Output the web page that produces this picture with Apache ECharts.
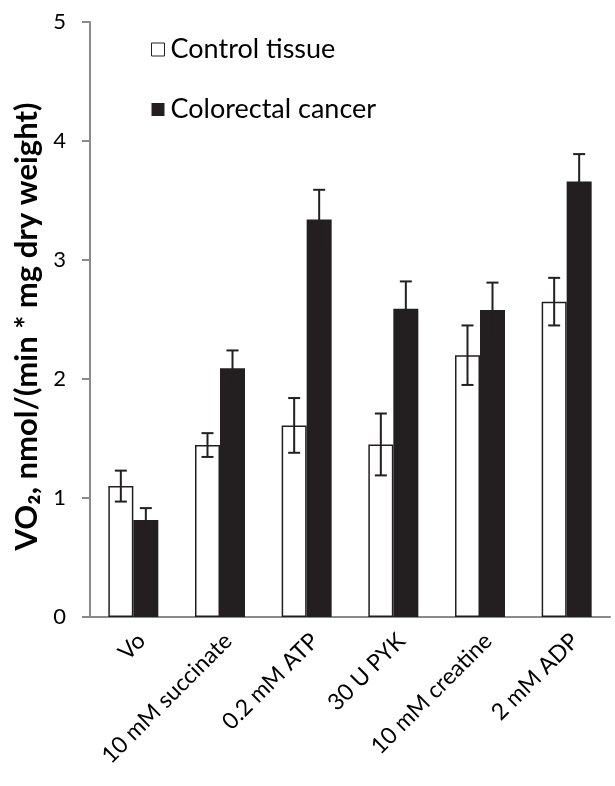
<!DOCTYPE html>
<html>
<head>
<meta charset="utf-8">
<script src="https://cdn.jsdelivr.net/npm/echarts@6/dist/echarts.min.js"></script>
<style>
  html, body { margin: 0; padding: 0; background: #fff; }
  #chart { width: 615px; height: 786px; }
</style>
</head>
<body>
<div id="chart"></div>
<script>
// Oxygen consumption per substrate addition
const categories = ['Vo', '10 mM succinate', '0.2 mM ATP', '30 U PYK', '10 mM creatine', '2 mM ADP'];
const controlValues = [1.10, 1.445, 1.61, 1.45, 2.20, 2.65];
const controlErrors = [0.13, 0.10, 0.23, 0.26, 0.25, 0.20];
const cancerValues = [0.815, 2.09, 3.34, 2.59, 2.58, 3.66];
const cancerErrors = [0.10, 0.15, 0.25, 0.23, 0.23, 0.23];
const yTicks = [0, 1, 2, 3, 4, 5];

const FONT = 'Lato';
const INK = '#231f20';
const AXIS = '#8a8a8a';
const BAR_W = 25;

function errorSeries(name, values, errors, side) {
  return {
    type: 'custom',
    name: name + ' error',
    silent: true,
    z: 5,
    data: values.map((v, i) => [i, v - errors[i], v + errors[i]]),
    renderItem: function (params, api) {
      const i = api.value(0);
      const lo = api.coord([i, api.value(1)]);
      const hi = api.coord([i, api.value(2)]);
      const x = lo[0] + side * BAR_W / 2;
      const cap = 6;
      const style = { stroke: INK, lineWidth: 2 };
      return {
        type: 'group',
        children: [
          { type: 'line', shape: { x1: x, y1: lo[1], x2: x, y2: hi[1] }, style },
          { type: 'line', shape: { x1: x - cap, y1: hi[1], x2: x + cap, y2: hi[1] }, style },
          { type: 'line', shape: { x1: x - cap, y1: lo[1], x2: x + cap, y2: lo[1] }, style }
        ]
      };
    }
  };
}

const chart = echarts.init(document.getElementById('chart'), null, { renderer: 'canvas' });
chart.setOption({
  animation: false,
  backgroundColor: '#fff',
  grid: { left: 90, right: 5, top: 22, bottom: 169, containLabel: false },
  legend: {
    orient: 'vertical',
    left: 146,
    top: 31,
    itemGap: 33,
    itemWidth: 13,
    itemHeight: 13,
    icon: 'rect',
    data: [
      { name: 'Control tissue', itemStyle: { color: '#fff', borderColor: INK, borderWidth: 1 } },
      { name: 'Colorectal cancer', itemStyle: { color: INK, borderWidth: 0 } }
    ],
    textStyle: { fontFamily: FONT, fontSize: 27, color: '#000', padding: [0, 0, 0, 1] }
  },
  xAxis: {
    type: 'category',
    data: categories,
    axisLine: { lineStyle: { color: AXIS, width: 2 } },
    axisTick: { length: 7, lineStyle: { color: AXIS, width: 2 } },
    axisLabel: {
      rotate: 45, margin: 12, verticalAlign: 'top',
      fontFamily: FONT, fontSize: 23, color: '#000', interval: 0
    }
  },
  yAxis: {
    type: 'value',
    min: 0,
    max: 5,
    interval: 1,
    name: 'VO\u2082, nmol/(min * mg dry weight)',
    nameLocation: 'middle',
    nameRotate: 90,
    nameGap: 46,
    nameTextStyle: {
      fontFamily: FONT, fontSize: 31, fontWeight: 'bold', color: '#000',
      padding: [0, 14, 0, 0]
    },
    splitLine: { show: false },
    axisLine: { show: true, lineStyle: { color: AXIS, width: 2 } },
    axisTick: { show: true, length: 8, lineStyle: { color: AXIS, width: 2 } },
    axisLabel: {
      margin: 24, fontFamily: FONT, fontSize: 22, color: '#000',
      formatter: v => (yTicks.indexOf(v) >= 0 ? String(v) : '')
    }
  },
  series: [
    {
      type: 'bar',
      name: 'Control tissue',
      data: controlValues,
      barWidth: BAR_W,
      barGap: '0%',
      itemStyle: { color: '#fff', borderColor: INK, borderWidth: 1.5 }
    },
    {
      type: 'bar',
      name: 'Colorectal cancer',
      data: cancerValues,
      barWidth: BAR_W,
      barGap: '0%',
      itemStyle: { color: INK, borderColor: INK, borderWidth: 0 }
    },
    errorSeries('Control tissue', controlValues, controlErrors, -1),
    errorSeries('Colorectal cancer', cancerValues, cancerErrors, 1)
  ]
});
</script>
</body>
</html>
